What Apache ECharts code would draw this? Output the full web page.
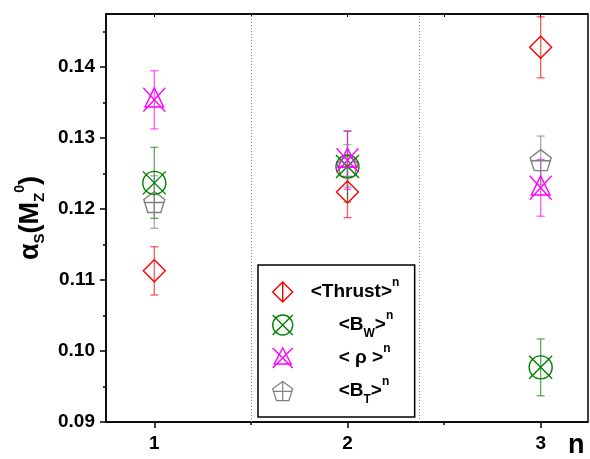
<!DOCTYPE html>
<html>
<head>
<meta charset="utf-8">
<script src="https://cdn.jsdelivr.net/npm/echarts@6/dist/echarts.min.js"></script>
<style>
html, body { margin: 0; padding: 0; background: #fff; }
#chart { width: 590px; height: 459px; }
</style>
</head>
<body>
<div id="chart"></div>
<script>
// values
var nValues = [1, 2, 3];
var thrust = [0.1113, 0.1224, 0.1428];
var thrustErr = [0.0034, 0.0036, 0.0043];
var bw = [0.1237, 0.1260, 0.0977];
var bwErr = [0.0050, 0.0050, 0.0040];
var rho = [0.1354, 0.1269, 0.1230];
var rhoErr = [0.0041, 0.0041, 0.0040];
var bt = [0.1210, 0.1261, 0.1269];
var btErr = [0.0037, 0.0030, 0.0034];

var yTicks = [0.09, 0.10, 0.11, 0.12, 0.13, 0.14];
var yMinorTicks = [0.095, 0.105, 0.115, 0.125, 0.135, 0.145];
var xTicks = [1, 2, 3];
var xMinorTicks = [1.5, 2.5];
var separators = [1.5, 2.37];

var FONT = '"Liberation Sans", Arial, sans-serif';

var paths = {
    diamond: 'path://M0,-10L10,0L0,10L-10,0Z',
    diamondBar: 'path://M0,-10L10,0L0,10L-10,0ZM0,-10L0,10',
    circleX: 'path://M-10,0A10,10,0,1,0,10,0A10,10,0,1,0,-10,0ZM-10,-10L10,10M10,-10L-10,10',
    triX: 'path://M0,-10L8.5,6L-8.5,6ZM-10,-10L10,10M10,-10L-10,10',
    penta: 'path://M0,-10L9.5,-3.1L5.9,8.1L-5.9,8.1L-9.5,-3.1ZM-9.5,-0.5L9.5,-0.5',
    pentaBar: 'path://M0,-10L9.5,-3.1L5.9,8.1L-5.9,8.1L-9.5,-3.1ZM0,-10L0,8.1M-9.5,-0.5L9.5,-0.5'
};

function errorSeries(name, vals, errs, color) {
    return {
        name: name + ' err',
        type: 'custom',
        silent: true,
        z: 2,
        data: nValues.map(function (n, i) { return [n, vals[i] - errs[i], vals[i] + errs[i]]; }),
        renderItem: function (params, api) {
            var lo = api.coord([api.value(0), api.value(1)]);
            var hi = api.coord([api.value(0), api.value(2)]);
            var w = 4;
            var st = { stroke: color, lineWidth: 1.3, opacity: 0.65 };
            return {
                type: 'group',
                children: [
                    { type: 'line', shape: { x1: lo[0], y1: lo[1], x2: hi[0], y2: hi[1] }, style: st },
                    { type: 'line', shape: { x1: lo[0] - w, y1: lo[1], x2: lo[0] + w, y2: lo[1] }, style: st },
                    { type: 'line', shape: { x1: hi[0] - w, y1: hi[1], x2: hi[0] + w, y2: hi[1] }, style: st }
                ]
            };
        }
    };
}

function pointSeries(name, vals, color, symbol, size) {
    return {
        name: name,
        type: 'scatter',
        z: 3,
        data: nValues.map(function (n, i) { return [n, vals[i]]; }),
        symbol: symbol,
        symbolSize: size,
        itemStyle: { color: 'rgba(0,0,0,0)', borderColor: color, borderWidth: 1.4, opacity: 1 }
    };
}

var legendText = {
    'Thrust': '{sp0| }{b|<Thrust>}{p|n}{s| }',
    'BW': '{sp| }{b|<B}{s|W}{b|>}{p|n}',
    'rho': '{sp| }{b|< \u03c1 >}{p|n}{s| }',
    'BT': '{sp| }{b|<B}{s|T}{b|>}{p|n}'
};

var chart = echarts.init(document.getElementById('chart'));

var option = {
    animation: false,
    grid: { left: 106, right: 2, top: 14, bottom: 37, show: true, borderColor: '#000', borderWidth: 1.5 },
    xAxis: [{
        type: 'value', min: 0.75, max: 3.245, position: 'bottom',
        splitLine: { show: false },
        axisLine: { lineStyle: { color: '#000', width: 1.5 } },
        axisTick: { customValues: xTicks, length: 6, lineStyle: { color: '#000', width: 1.5 } },
        axisLabel: { customValues: xTicks, margin: 12, color: '#000', fontSize: 19, fontWeight: 'bold', fontFamily: FONT },
        name: 'n', nameLocation: 'end', nameGap: -20,
        nameTextStyle: { color: '#000', fontSize: 27, fontWeight: 'bold', fontFamily: FONT, align: 'left', verticalAlign: 'top', padding: [10, 0, 0, 0] }
    }, {
        type: 'value', min: 0.75, max: 3.245, position: 'bottom', offset: 0,
        splitLine: { show: false },
        axisLine: { show: false },
        axisTick: { customValues: xMinorTicks, length: 3, lineStyle: { color: '#000', width: 1.5 } },
        axisLabel: { show: false }
    }, {
        type: 'value', min: 0.75, max: 3.245, position: 'top',
        splitLine: { show: false },
        axisLine: { lineStyle: { color: '#000', width: 1.5 } },
        axisTick: { customValues: [1, 1.5, 2, 2.5, 3], inside: true, length: 3, lineStyle: { color: '#000', width: 1 } },
        axisLabel: { show: false }
    }],
    yAxis: [{
        type: 'value', min: 0.09, max: 0.1475, position: 'left',
        splitLine: { show: false },
        axisLine: { lineStyle: { color: '#000', width: 1.5 } },
        axisTick: { customValues: yTicks, length: 6, lineStyle: { color: '#000', width: 1.5 } },
        axisLabel: {
            customValues: yTicks, margin: 11, color: '#000', fontSize: 19, fontWeight: 'bold', fontFamily: FONT,
            formatter: function (v) { return v.toFixed(2); }
        },
        name: '{a|\u03b1}{s|S}{a|(M}{s|Z}{p|0}{a|)}',
        nameLocation: 'middle', nameRotate: 90, nameGap: 43,
        nameTextStyle: {
            color: '#000', fontFamily: FONT, fontWeight: 'bold',
            rich: {
                a: { fontSize: 27, fontWeight: 'bold', fontFamily: FONT, color: '#000', lineHeight: 34 },
                s: { fontSize: 15, fontWeight: 'bold', fontFamily: FONT, color: '#000', verticalAlign: 'bottom', lineHeight: 15 },
                p: { fontSize: 14, fontWeight: 'bold', fontFamily: FONT, color: '#000', verticalAlign: 'top', lineHeight: 14 }
            }
        }
    }, {
        type: 'value', min: 0.09, max: 0.1475, position: 'left', offset: 0,
        splitLine: { show: false },
        axisLine: { show: false },
        axisTick: { customValues: yMinorTicks, length: 3, lineStyle: { color: '#000', width: 1.5 } },
        axisLabel: { show: false }
    }],
    legend: {
        orient: 'vertical',
        left: 258, top: 265,
        padding: [12, 12, 11, 14],
        itemGap: 3,
        itemWidth: 20, itemHeight: 20,
        borderColor: '#000', borderWidth: 1.5,
        backgroundColor: '#fff',
        selectedMode: false,
        data: [
            { name: 'Thrust', icon: paths.diamondBar, itemStyle: { color: 'rgba(0,0,0,0)', borderColor: '#ff0000', borderWidth: 1.4 } },
            { name: 'BW', icon: paths.circleX, itemStyle: { color: 'rgba(0,0,0,0)', borderColor: '#008000', borderWidth: 1.4 } },
            { name: 'rho', icon: paths.triX, itemStyle: { color: 'rgba(0,0,0,0)', borderColor: '#ff00ff', borderWidth: 1.4 } },
            { name: 'BT', icon: paths.pentaBar, itemStyle: { color: 'rgba(0,0,0,0)', borderColor: '#808080', borderWidth: 1.2 } }
        ],
        formatter: function (name) { return legendText[name]; },
        textStyle: {
            color: '#000', fontFamily: FONT, fontWeight: 'bold',
            rich: {
                b: { fontSize: 19, fontWeight: 'bold', fontFamily: FONT, color: '#000', lineHeight: 30 },
                s: { fontSize: 12, fontWeight: 'bold', fontFamily: FONT, color: '#000', verticalAlign: 'bottom', lineHeight: 12 },
                p: { fontSize: 12, fontWeight: 'bold', fontFamily: FONT, color: '#000', verticalAlign: 'top', lineHeight: 12 },
                sp0: { width: 13 },
                sp: { width: 41 }
            }
        }
    },
    series: [
        errorSeries('Thrust', thrust, thrustErr, '#ff0000'),
        errorSeries('BW', bw, bwErr, '#008000'),
        errorSeries('rho', rho, rhoErr, '#ff00ff'),
        errorSeries('BT', bt, btErr, '#808080'),
        {
            type: 'line', name: 'sep', data: [], silent: true,
            markLine: {
                silent: true, symbol: 'none', label: { show: false },
                lineStyle: { color: '#888', type: [1, 2], width: 1 },
                data: separators.map(function (x) { return { xAxis: x }; })
            }
        },
        pointSeries('BT', bt, '#808080', paths.penta, [21, 21]),
        pointSeries('Thrust', thrust, '#ff0000', paths.diamond, [22, 22]),
        pointSeries('BW', bw, '#008000', paths.circleX, [23, 23]),
        pointSeries('rho', rho, '#ff00ff', paths.triX, [22, 24])
    ]
};

chart.setOption(option);
</script>
</body>
</html>
